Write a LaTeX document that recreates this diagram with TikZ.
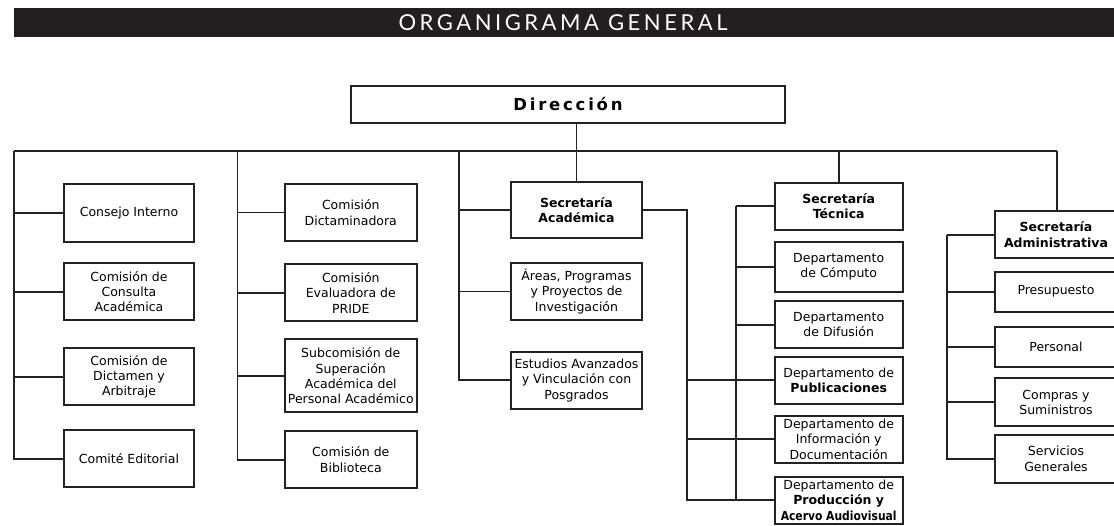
\documentclass[tikz,border=0pt]{standalone}
\usepackage{fontspec}
\setmainfont{DejaVu Sans}
\newfontfamily\titlefont[LetterSpace=16]{Lato}
\newfontfamily\dirfont[LetterSpace=16.7]{DejaVu Sans}
\definecolor{linec}{HTML}{222222}
\definecolor{titlebg}{HTML}{231F20}
\begin{document}
\begin{tikzpicture}[x=1pt,y=-1pt,
  orgbox/.style={draw=linec, line width=1.9pt, align=center, inner xsep=1pt, inner ysep=0pt,
    font=\fontsize{12.5}{15.3}\selectfont, text=black},
  conn/.style={draw=linec, line width=1.7pt},
  c1/.style={orgbox, minimum width=130.6},
  c2/.style={orgbox, minimum width=132.3},
  c3/.style={orgbox, minimum width=130.4},
  c4/.style={orgbox, minimum width=128},
  c5/.style={orgbox, minimum width=122}]
\useasboundingbox (0,0) rectangle (1114,525);
% title bar
\fill[titlebg] (14,8) rectangle (1116,36.7);
\node[text=white, font=\titlefont\fontsize{22}{24}\selectfont, inner sep=0pt] (title) at (563,22.3) {ORGANIGRAMA GENERAL};
% Direccion
\node[orgbox, minimum width=434, minimum height=36.7, font=\dirfont\bfseries\fontsize{16.5}{18}\selectfont] (dir) at (568,104.5) {Dirección};
% column 1
\node[c1, minimum height=57.4] (ci) at (129,213) {Consejo Interno};
\node[c1, minimum height=56.7] (cca) at (129,291.7) {Comisión de\\Consulta\\Académica};
\node[c1, minimum height=56.7] (cda) at (129,376.7) {Comisión de\\Dictamen y\\Arbitraje};
\node[c1, minimum height=57.3] (ce) at (129,458.7) {Comité Editorial};
% column 2
\node[c2, minimum height=57] (cd) at (350.8,212.5) {Comisión\\Dictaminadora};
\node[c2, minimum height=57] (cep) at (350.8,292.8) {Comisión\\Evaluadora de\\PRIDE};
\node[c2, minimum height=73] (sub) at (350.8,375.8) {Subcomisión de\\Superación\\Académica del\\Personal Académico};
\node[c2, minimum height=57.3] (bib) at (350.8,459.7) {Comisión de\\Biblioteca};
% column 3
\node[c3, minimum height=56.6, font=\bfseries\fontsize{12.5}{15.3}\selectfont] (sa) at (576.5,210) {Secretaría\\Académica};
\node[c3, minimum height=57] (areas) at (576.5,291.5) {Áreas, Programas\\y Proyectos de\\Investigación};
\node[c3, minimum height=57.3] (est) at (576.5,380.3) {Estudios Avanzados\\y Vinculación con\\Posgrados};
% column 4
\node[c4, minimum height=47.3, font=\bfseries\fontsize{12.5}{15.3}\selectfont] (st) at (838.7,206.3) {Secretaría\\Técnica};
\node[c4, minimum height=50] (comp) at (838.7,266.7) {Departamento\\de Cómputo};
\node[c4, minimum height=47.3] (dif) at (838.7,324.7) {Departamento\\de Difusión};
\node[c4, minimum height=47.3] (pub) at (838.7,380.3) {Departamento de\\\textbf{Publicaciones}};
\node[c4, minimum height=47] (info) at (838.7,439.2) {Departamento de\\Información y\\Documentación};
\node[c4, minimum height=47.3] (prod) at (838.7,500.3) {Departamento de\\\textbf{Producción y}\\\scalebox{0.86}[1]{\textbf{Acervo Audiovisual}}};
% column 5
\node[c5, minimum height=47.3, font=\bfseries\fontsize{12.5}{15.3}\selectfont] (sadm) at (1056,234.7) {Secretaría\\Administrativa};
\node[c5, minimum height=40] (pres) at (1056,291.7) {Presupuesto};
\node[c5, minimum height=40] (pers) at (1056,346.7) {Personal};
\node[c5, minimum height=47.7] (compr) at (1056,402.2) {Compras y\\Suministros};
\node[c5, minimum height=47.7] (serv) at (1056,458.8) {Servicios\\Generales};
% rail coordinates
\coordinate (railL) at (14,151);
\coordinate (railR) at (1056.7,151);
\coordinate (x2) at (237.5,151);
\coordinate (x3) at (459.3,151);
\coordinate (x35) at (686.7,0);
\coordinate (x4) at (735.7,0);
\coordinate (x5) at (947,0);
% connectors
\draw[conn] (railL) -- (railR);
\draw[conn] (sa.north |- dir.south) -- (sa.north);
\draw[conn] (st.north |- railR) -- (st.north);
\draw[conn] (railR) -- (railR |- sadm.north);
% col1
\draw[conn] (railL) |- (ce.west);
\foreach \n in {ci,cca,cda} \draw[conn] (railL |- \n.west) -- (\n.west);
% col2
\draw[conn] (x2) |- (bib.west);
\foreach \n in {cd,cep,sub} \draw[conn] (x2 |- \n.west) -- (\n.west);
% col3
\draw[conn] (x3) |- (est.west);
\foreach \n in {sa,areas} \draw[conn] (x3 |- \n.west) -- (\n.west);
\draw[conn] (sa.east) -| (x35 |- prod.west) -- (prod.west);
\foreach \n in {pub,info} \draw[conn] (x35 |- \n.west) -- (\n.west);
% col4
\draw[conn] (x4 |- st.west) |- (prod.west);
\foreach \n in {st,comp,dif,pub,info} \draw[conn] (x4 |- \n.west) -- (\n.west);
% col5
\draw[conn] (x5 |- sadm.west) |- (serv.west);
\foreach \n in {sadm,pres,pers,compr} \draw[conn] (x5 |- \n.west) -- (\n.west);
\end{tikzpicture}
\end{document}
